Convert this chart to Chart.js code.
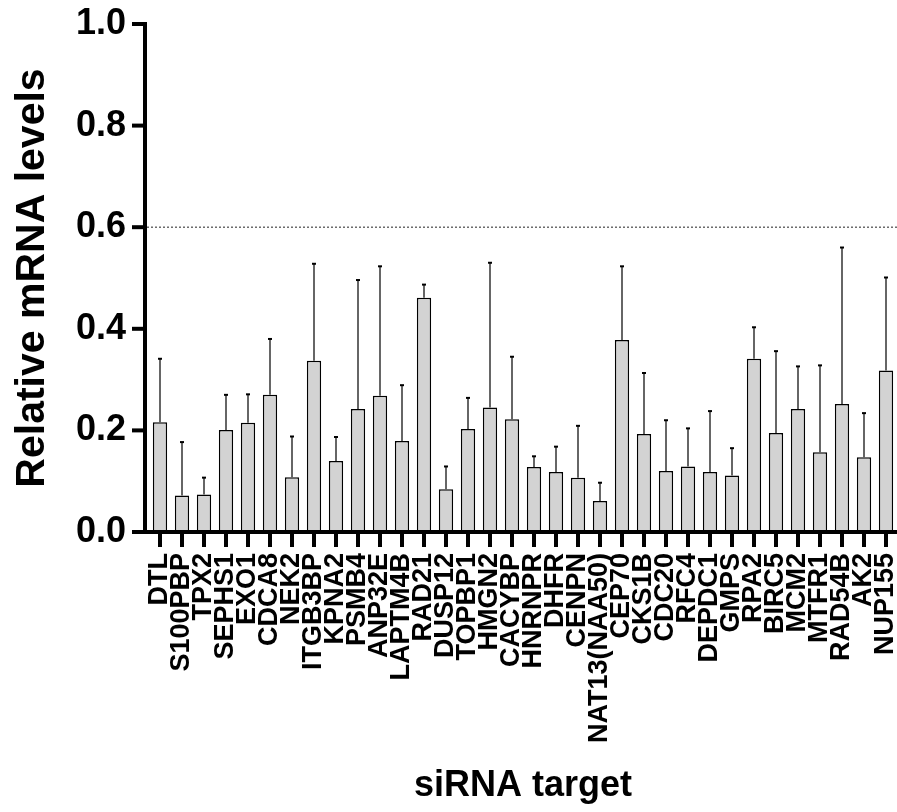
<!DOCTYPE html>
<html>
<head>
<meta charset="utf-8">
<script src="https://cdn.jsdelivr.net/npm/chart.js@4"></script>
<style>
  html, body { margin: 0; padding: 0; background: #fff; }
  #wrap { width: 897px; height: 812px; }
</style>
</head>
<body>
<div id="wrap"><canvas id="c" width="897" height="812"></canvas></div>
<script>
const categories = ["DTL","S100PBP","TPX2","SEPHS1","EXO1","CDCA8","NEK2","ITGB3BP","KPNA2","PSMB4","ANP32E","LAPTM4B","RAD21","DUSP12","TOPBP1","HMGN2","CACYBP","HNRNPR","DHFR","CENPN","NAT13(NAA50)","CEP70","CKS1B","CDC20","RFC4","DEPDC1","GMPS","RPA2","BIRC5","MCM2","MTFR1","RAD54B","AK2","NUP155"];
const meanValues = [0.216,0.072,0.074,0.201,0.215,0.270,0.108,0.337,0.140,0.242,0.268,0.179,0.461,0.084,0.203,0.245,0.222,0.128,0.118,0.107,0.061,0.378,0.193,0.120,0.129,0.118,0.111,0.341,0.195,0.242,0.157,0.252,0.147,0.318];
const errorValues = [0.125,0.105,0.033,0.069,0.056,0.110,0.080,0.191,0.047,0.254,0.255,0.110,0.026,0.045,0.061,0.285,0.123,0.021,0.050,0.102,0.036,0.145,0.120,0.100,0.075,0.120,0.054,0.062,0.161,0.084,0.171,0.308,0.087,0.183];
const yTicks = [0, 0.2, 0.4, 0.6, 0.8, 1.0];
const thresholdValue = 0.6;

const FONT = "'Liberation Sans', Arial, Helvetica, sans-serif";

const axesPlugin = {
  id: 'axesPlugin',
  beforeDatasetsDraw(chart) {
    const ctx = chart.ctx, ca = chart.chartArea, y = chart.scales.y;
    const yp = y.getPixelForValue(thresholdValue);
    ctx.save();
    ctx.strokeStyle = '#555';
    ctx.lineWidth = 1.3;
    ctx.setLineDash([2, 2]);
    ctx.beginPath();
    ctx.moveTo(ca.left - 2, yp);
    ctx.lineTo(ca.right, yp);
    ctx.stroke();
    ctx.restore();
  },
  afterDatasetsDraw(chart) {
    const ctx = chart.ctx, ca = chart.chartArea, y = chart.scales.y;
    const meta = chart.getDatasetMeta(0);
    ctx.save();
    meta.data.forEach((bar, i) => {
      const top = y.getPixelForValue(meanValues[i] + errorValues[i]);
      const base = y.getPixelForValue(meanValues[i]);
      ctx.strokeStyle = '#333';
      ctx.lineWidth = 1.5;
      ctx.beginPath();
      ctx.moveTo(bar.x, base);
      ctx.lineTo(bar.x, top);
      ctx.stroke();
      ctx.strokeStyle = '#000';
      ctx.lineWidth = 2;
      ctx.beginPath();
      ctx.moveTo(bar.x - 2, top);
      ctx.lineTo(bar.x + 2, top);
      ctx.stroke();
    });
    const axX = ca.left - 4;
    const y0 = y.getPixelForValue(0);
    ctx.strokeStyle = '#000';
    ctx.lineWidth = 4;
    ctx.beginPath();
    ctx.moveTo(axX, y.getPixelForValue(1) - 2);
    ctx.lineTo(axX, y0 + 2);
    ctx.stroke();
    ctx.beginPath();
    ctx.moveTo(axX, y0);
    ctx.lineTo(ca.right, y0);
    ctx.stroke();
    yTicks.forEach(v => {
      const p = y.getPixelForValue(v);
      ctx.beginPath();
      ctx.moveTo(axX - 13, p);
      ctx.lineTo(axX + 2, p);
      ctx.stroke();
    });
    ctx.restore();
  }
};

new Chart(document.getElementById('c'), {
  type: 'bar',
  data: {
    labels: categories,
    datasets: [{
      data: meanValues,
      backgroundColor: '#d3d3d3',
      borderColor: '#000',
      borderWidth: 1.5,
      barPercentage: 0.65,
      categoryPercentage: 1.0
    }]
  },
  options: {
    responsive: false,
    animation: false,
    devicePixelRatio: 1,
    layout: { padding: { top: 24, right: 0, left: 0, bottom: 0 } },
    plugins: { legend: { display: false }, tooltip: { enabled: false } },
    scales: {
      x: {
        offset: true,
        grid: { display: true, drawOnChartArea: false, drawTicks: true, tickLength: 15, lineWidth: 4, color: '#000', offset: false },
        border: { display: false },
        ticks: {
          autoSkip: false, maxRotation: 90, minRotation: 90, padding: 6,
          color: '#000', font: { family: FONT, size: 27, weight: 'bold' }
        },
        title: {
          display: true, text: 'siRNA target', color: '#000',
          font: { family: FONT, size: 36, weight: 'bold' },
          padding: { top: 0, bottom: 4 }
        },
        afterFit(scale) {
          scale.height = 280;
          scale.paddingLeft = 0; scale.paddingRight = 0;
        }
      },
      y: {
        min: 0, max: 1,
        afterBuildTicks(scale) { scale.ticks = yTicks.map(v => ({ value: v })); },
        grid: { display: false, drawTicks: false },
        border: { display: false },
        ticks: {
          padding: 23, color: '#000',
          font: { family: FONT, size: 36, weight: 'bold' },
          callback: v => Number(v).toFixed(1)
        },
        title: {
          display: true, text: 'Relative mRNA levels', color: '#000',
          font: { family: FONT, size: 41, weight: 'bold' },
          padding: { top: 8, bottom: 0 }
        },
        afterFit(scale) {
          scale.width = 149;
          scale.paddingTop = 0; scale.paddingBottom = 0;
        }
      }
    }
  },
  plugins: [axesPlugin]
});
</script>
</body>
</html>
